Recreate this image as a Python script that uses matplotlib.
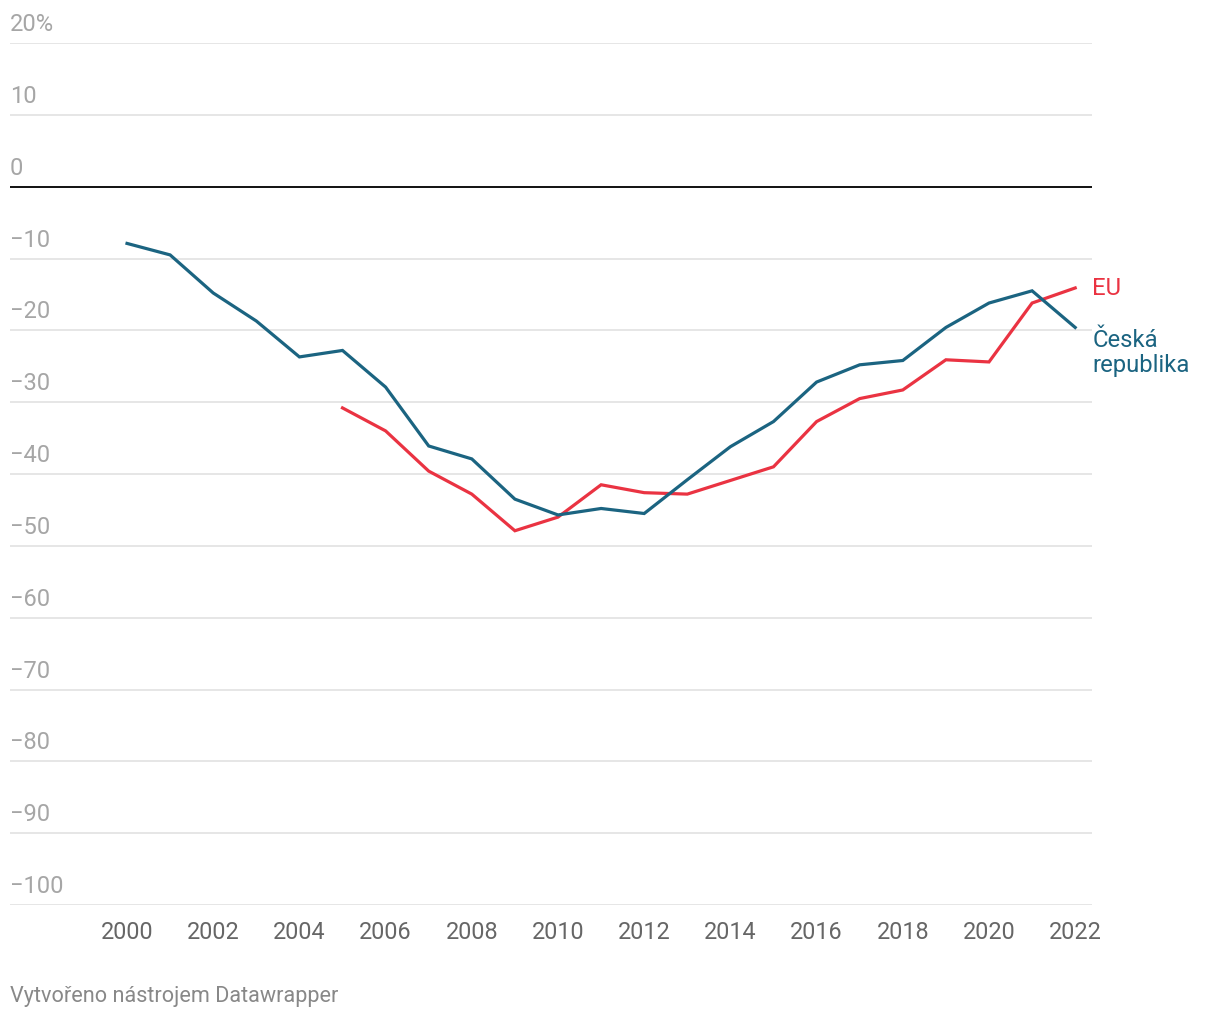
import matplotlib
matplotlib.use("Agg")
import matplotlib.pyplot as plt
import matplotlib.transforms as mtransforms

plt.rcParams["font.family"] = ["Roboto", "DejaVu Sans"]

years = list(range(2000, 2023))
cz = [-7.9, -9.5, -14.8, -18.7, -23.7, -22.8, -27.9, -36.1, -37.9, -43.5, -45.7,
      -44.8, -45.5, -40.8, -36.2, -32.7, -27.2, -24.8, -24.2, -19.6, -16.2, -14.5, -19.6]
eu_years = list(range(2005, 2023))
eu = [-30.8, -34.0, -39.6, -42.8, -47.9, -46.0, -41.5, -42.6, -42.8, -40.9, -39.0,
      -32.7, -29.5, -28.3, -24.1, -24.4, -16.2, -14.1]
y_ticks = [20, 10, 0, -10, -20, -30, -40, -50, -60, -70, -80, -90, -100]
y_labels = ["20%", "10", "0", "\u221210", "\u221220", "\u221230", "\u221240", "\u221250",
            "\u221260", "\u221270", "\u221280", "\u221290", "\u2212100"]
x_ticks = list(range(2000, 2023, 2))

CZ_COLOR = "#1b6481"
EU_COLOR = "#ea3342"

fig = plt.figure(figsize=(12.2, 10.2), dpi=100)
ax = fig.add_axes([10 / 1220, 1 - 906 / 1020, 1082 / 1220, 862 / 1020])
ax.set_xlim(1997.285, 2022.39)
ax.set_ylim(-100, 20)

for s in ax.spines.values():
    s.set_visible(False)
ax.set_yticks([])
ax.set_xticks(x_ticks)
ax.set_xticklabels([str(x) for x in x_ticks], fontsize=16.8, color="#666666")
ax.tick_params(axis="x", length=0, pad=11)

trans = mtransforms.blended_transform_factory(ax.transAxes, ax.transData)
for v, lab in zip(y_ticks, y_labels):
    if v == 0:
        ax.axhline(v, color="#111111", lw=1.4, zorder=2)
    else:
        ax.axhline(v, color="#e2e2e2", lw=1.2, zorder=1)
    ax.text(0, v + 1.1, lab, transform=trans, fontsize=17, color="#a6a6a6",
            ha="left", va="bottom")

ax.plot(eu_years, eu, color=EU_COLOR, lw=2.3, solid_joinstyle="miter", zorder=3)
ax.plot(years, cz, color=CZ_COLOR, lw=2.3, solid_joinstyle="miter", zorder=4)

ax.annotate("EU", (2022, eu[-1]), xytext=(17, 0), textcoords="offset pixels",
            fontsize=17.2, color=EU_COLOR, va="center", ha="left", annotation_clip=False)
ax.annotate("Česká\nrepublika", (2022, cz[-1]), xytext=(17, -1), textcoords="offset pixels",
            fontsize=17.2, color=CZ_COLOR, va="top", ha="left", linespacing=1.1,
            annotation_clip=False)

fig.text(10 / 1220, 1 - 997 / 1020, "Vytvořeno nástrojem Datawrapper", fontsize=15.6,
         color="#888888", ha="left", va="center")

fig.savefig("out.png", dpi=100, facecolor="white")
